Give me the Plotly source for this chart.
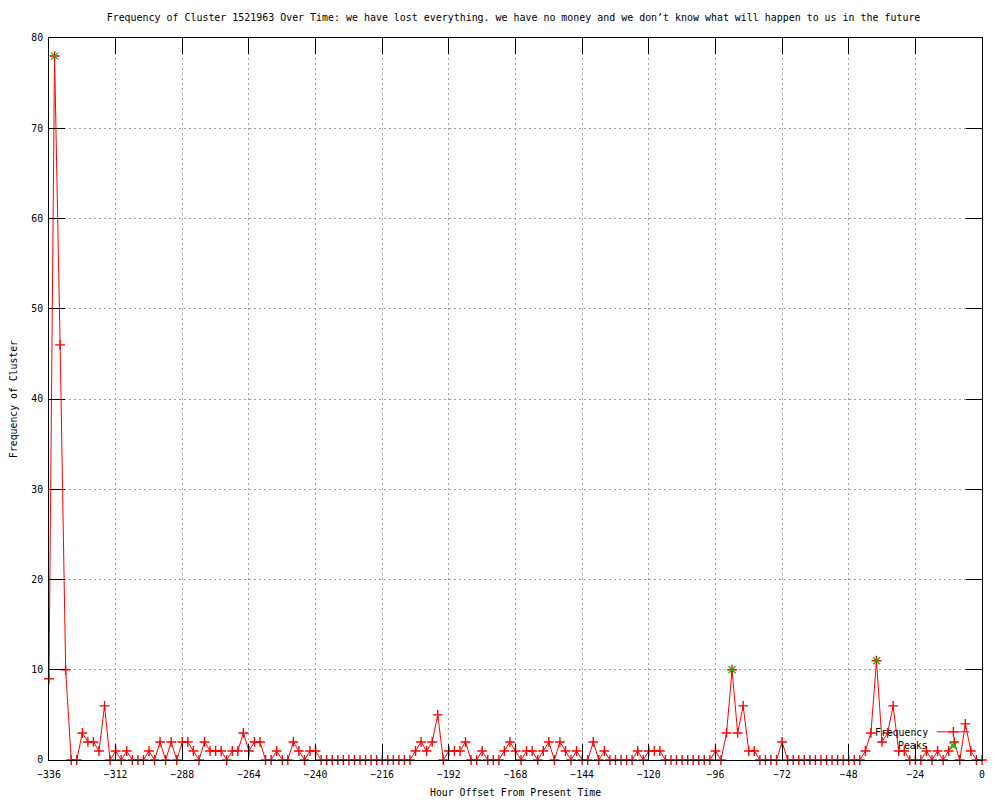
import plotly.graph_objects as go

# ---- data -------------------------------------------------------------
hours = list(range(-336, 1, 2))  # hour offsets (every 2 hours)
frequency = [
    9, 78, 46, 10, 0, 0, 3, 2, 2, 1,
    6, 0, 1, 0, 1, 0, 0, 0, 1, 0,
    2, 0, 2, 0, 2, 2, 1, 0, 2, 1,
    1, 1, 0, 1, 1, 3, 1, 2, 2, 0,
    0, 1, 0, 0, 2, 1, 0, 1, 1, 0,
    0, 0, 0, 0, 0, 0, 0, 0, 0, 0,
    0, 0, 0, 0, 0, 0, 1, 2, 1, 2,
    5, 0, 1, 1, 1, 2, 0, 0, 1, 0,
    0, 0, 1, 2, 1, 0, 1, 1, 0, 1,
    2, 0, 2, 1, 0, 1, 0, 0, 2, 0,
    1, 0, 0, 0, 0, 0, 1, 0, 1, 1,
    1, 0, 0, 0, 0, 0, 0, 0, 0, 0,
    1, 0, 3, 10, 3, 6, 1, 1, 0, 0,
    0, 0, 2, 0, 0, 0, 0, 0, 0, 0,
    0, 0, 0, 0, 0, 0, 0, 1, 3, 11,
    2, 3, 6, 1, 1, 0, 0, 0, 1, 0,
    1, 0, 1, 2, 0, 4, 1, 0, 0,
]
peak_hours = [-334, -90, -38]
peak_values = [78, 10, 11]

x_ticks = list(range(-336, 1, 24))
y_ticks = list(range(0, 81, 10))

title_text = ("Frequency of Cluster 1521963 Over Time: we have lost everything. "
              "we have no money and we don\u2019t know what will happen to us in the future")
x_title = "Hour Offset From Present Time"
y_title = "Frequency of Cluster"
legend_labels = ["Frequency", "Peaks"]

# ---- styles -----------------------------------------------------------
FONT = "DejaVu Sans Mono"
FS = 9.8
RED = "#ff0000"
GREEN = "#00c000"
W, H = 992, 792  # page body has an 8px margin

fig = go.Figure()

fig.add_trace(go.Scatter(
    x=hours, y=frequency, mode="lines+markers",
    line=dict(color=RED, width=1),
    marker=dict(symbol="cross-thin", size=7, line=dict(color=RED, width=1.4)),
    cliponaxis=False, showlegend=False, name=legend_labels[0]))

fig.add_trace(go.Scatter(
    x=peak_hours, y=peak_values, mode="markers",
    marker=dict(symbol="x-thin", size=7, line=dict(color=GREEN, width=1.2)),
    cliponaxis=False, showlegend=False, name=legend_labels[1]))

# legend samples on an overlay axis (paper-like 0..1 coordinates)
fig.add_trace(go.Scatter(
    x=[0.9514, 0.9864], y=[0.039, 0.039], mode="lines",
    line=dict(color=RED, width=1), xaxis="x2", yaxis="y2",
    showlegend=False, cliponaxis=False, hoverinfo="skip"))
fig.add_trace(go.Scatter(
    x=[0.9693], y=[0.039], mode="markers",
    marker=dict(symbol="cross-thin", size=7, line=dict(color=RED, width=1.4)),
    xaxis="x2", yaxis="y2", showlegend=False, cliponaxis=False, hoverinfo="skip"))
fig.add_trace(go.Scatter(
    x=[0.9693], y=[0.0194], mode="markers",
    marker=dict(symbol="x-thin", size=7, line=dict(color=GREEN, width=1.2)),
    xaxis="x2", yaxis="y2", showlegend=False, cliponaxis=False, hoverinfo="skip"))

axis_common = dict(
    showline=True, linecolor="black", linewidth=1, mirror="ticks",
    ticks="inside", ticklen=16, tickwidth=1, tickcolor="black",
    showgrid=True, gridcolor="#a0a0a0", gridwidth=1, griddash="2px,3px",
    zeroline=False, tickfont=dict(family=FONT, size=FS, color="black"),
)

fig.update_layout(
    width=W, height=H,
    margin=dict(l=41, r=18, t=30, b=40),
    paper_bgcolor="white", plot_bgcolor="white",
    font=dict(family=FONT, size=FS, color="black"),
    title=dict(text=title_text, x=0.5096, xanchor="center",
               y=1 - 10 / H, yanchor="middle",
               font=dict(family=FONT, size=9.95, color="black")),
    xaxis=dict(range=[-336, 0], tickvals=x_ticks, ticklabelstandoff=5, **axis_common),
    yaxis=dict(range=[0, 80], tickvals=y_ticks, ticklabelstandoff=3, **axis_common),
    xaxis2=dict(overlaying="x", range=[0, 1], visible=False, anchor="y2"),
    yaxis2=dict(overlaying="y", range=[0, 1], visible=False, anchor="x2"),
    showlegend=False,
    annotations=[
        dict(text=x_title, xref="paper", yref="paper", x=0.5, y=-0.0457,
             xanchor="center", yanchor="middle", showarrow=False,
             font=dict(family=FONT, size=FS, color="black")),
        dict(text=y_title, xref="paper", yref="paper", x=-0.0386, y=0.5,
             xanchor="center", yanchor="middle", textangle=-90, showarrow=False,
             font=dict(family=FONT, size=FS, color="black")),
        dict(text=legend_labels[0], xref="paper", yref="paper", x=0.9443, y=0.0374,
             xanchor="right", yanchor="middle", showarrow=False,
             font=dict(family=FONT, size=FS, color="black")),
        dict(text=legend_labels[1], xref="paper", yref="paper", x=0.9443, y=0.0194,
             xanchor="right", yanchor="middle", showarrow=False,
             font=dict(family=FONT, size=FS, color="black")),
    ],
)

fig.write_html("out.html")
